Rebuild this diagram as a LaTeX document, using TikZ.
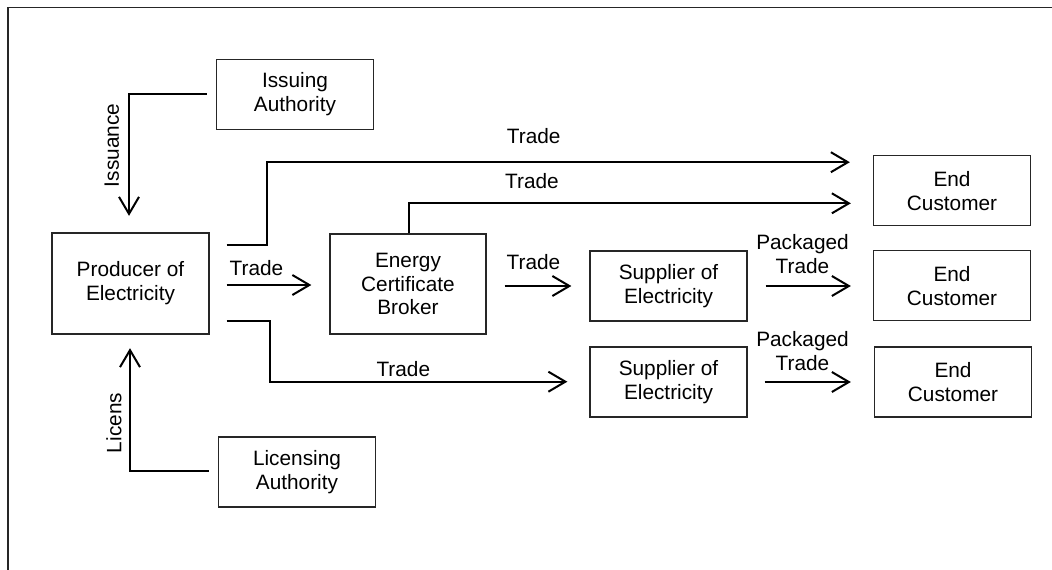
\documentclass[tikz,border=0pt]{standalone}
\usepackage{fontspec}
\setmainfont{Liberation Sans}
\usetikzlibrary{arrows.meta,calc}
\begin{document}
\begin{tikzpicture}[x=1pt,y=-1pt,
  every node/.style={font=\fontsize{20.8}{23.8}\selectfont},
  box/.style={draw=black!85, line width=1.3pt, minimum width=157pt, minimum height=70pt, align=center, inner sep=0pt},
  conn/.style={line width=2pt, -{Straight Barb[length=17pt,width=20pt,line width=2pt]}},
  lbl/.style={inner sep=0pt, align=center}]
\useasboundingbox (0,0) rectangle (1052,570);
\draw[line width=1.6pt, black!85] (8,570) -- (8,7.5) -- (1052,7.5);

\node[box, minimum height=101pt] (prod) at (130.5,283.5) {Producer of\\Electricity};
\node[box] (iss) at (295,94.3) {Issuing\\Authority};
\node[box] (lic) at (297,472) {Licensing\\Authority};
\node[box, minimum height=100pt, minimum width=156pt] (brk) at (408,284) {Energy\\Certificate\\Broker};
\node[box] (sup1) at (668.5,286) {Supplier of\\Electricity};
\node[box] (sup2) at (668.5,382) {Supplier of\\Electricity};
\node[box] (end1) at (952,190.7) {End\\Customer};
\node[box] (end2) at (952,285.7) {End\\Customer};
\node[box] (end3) at (953,382) {End\\Customer};

% Issuance / Licens
\draw[conn] ([xshift=-9pt]iss.west) -| ([xshift=-1.5pt,yshift=16.5pt]prod.north);
\node[lbl, rotate=90] (issl) at (111.7,145.5) {Issuance};
\draw[conn] ([xshift=-9pt,yshift=1.3pt]lic.west) -| ([xshift=-0.5pt,yshift=-13.5pt]prod.south);
\node[lbl, rotate=90] (licl) at (114,423) {Licens};

% Producer routes
\draw[conn] ([xshift=17pt,yshift=38.5pt]prod.east) -- ++(40,0) |- ([xshift=-23pt,yshift=28.5pt]end1.west);
\node[lbl, anchor=base] (t1) at (533.7,143.3) {Trade};
\draw[conn, shorten >=18pt] ([xshift=17pt,yshift=-1.5pt]prod.east) -- ([yshift=-1pt]brk.west);
\node[lbl, anchor=base] (t2) at (256.5,275) {Trade};
\draw[conn] ([xshift=17pt,yshift=-37pt]prod.east) -- ++(43,0) |- ([xshift=-22pt,yshift=0.3pt]sup2.west);
\node[lbl, anchor=base] (t3) at (403.3,376) {Trade};

% Broker routes
\draw[conn] ([xshift=1pt]brk.north) |- ([xshift=-22pt,yshift=-12.6pt]end1.west);
\node[lbl, anchor=base] (t4) at (532,188.3) {Trade};
\draw[conn] ([xshift=18pt]brk.east |- sup1.west) -- ([xshift=-18pt]sup1.west);
\node[lbl, anchor=base] (t5) at (533.5,269.3) {Trade};

% Supplier routes
\draw[conn] ([xshift=18pt]sup1.east) -- ([xshift=-22pt]sup1.east -| end2.west);
\node[lbl, anchor=south] (p1) at (802.5,274) {Packaged\\Trade};
\draw[conn] ([xshift=17pt]sup2.east) -- ([xshift=-23pt]sup2.east -| end3.west);
\node[lbl, anchor=south] (p2) at (802.5,370.7) {Packaged\\Trade};
\end{tikzpicture}
\end{document}
